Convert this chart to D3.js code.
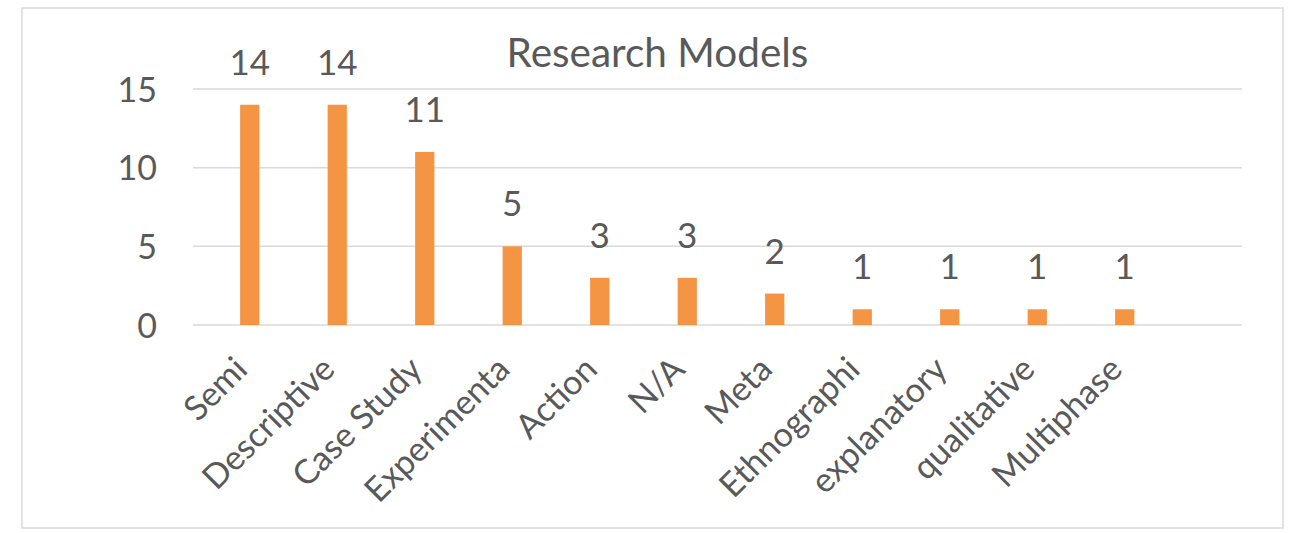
<!DOCTYPE html>
<html>
<head>
<meta charset="utf-8">
<script src="https://cdn.jsdelivr.net/npm/d3@7/dist/d3.min.js"></script>
<style>
  html, body { margin: 0; padding: 0; background: #ffffff; }
  svg { display: block; }
  text { font-family: Lato, "Noto Sans", sans-serif; fill: #595959; }
</style>
</head>
<body>
<svg id="chart" width="1298" height="533"></svg>
<script>
const categories = ["Semi", "Descriptive", "Case Study", "Experimenta", "Action", "N/A", "Meta", "Ethnographi", "explanatory", "qualitative", "Multiphase"];
const values = [14, 14, 11, 5, 3, 3, 2, 1, 1, 1, 1];
const yTicks = [0, 5, 10, 15];
const title = "Research Models";

const svg = d3.select("#chart");

// chart border
svg.append("rect")
  .attr("x", 22).attr("y", 8)
  .attr("width", 1261).attr("height", 520)
  .attr("fill", "#ffffff")
  .attr("stroke", "#d9d9d9")
  .attr("stroke-width", 1.5);

const gridLeft = 193, gridRight = 1242;

const x = d3.scaleBand()
  .domain(categories)
  .range([206, 1168.5])
  .paddingInner(0.78)
  .paddingOuter(0.39);

const y = d3.scaleLinear()
  .domain([0, 15])
  .range([325, 89]);

// gridlines
svg.append("g")
  .selectAll("line")
  .data(yTicks)
  .join("line")
  .attr("x1", gridLeft).attr("x2", gridRight)
  .attr("y1", d => y(d)).attr("y2", d => y(d))
  .attr("stroke", "#d9d9d9")
  .attr("stroke-width", 1.5);

// y axis labels
const yAxis = d3.axisLeft(y).tickValues(yTicks).tickSize(0).tickPadding(0);
const yg = svg.append("g").attr("transform", "translate(157,0)").call(yAxis);
yg.select(".domain").remove();
yg.selectAll("text")
  .attr("font-size", "34px")
  .attr("fill", "#595959")
  .style("font-family", "Lato, 'Noto Sans', sans-serif")
  .attr("dy", "0.36em");

// bars
svg.append("g")
  .selectAll("rect")
  .data(values)
  .join("rect")
  .attr("x", (d, i) => x(categories[i]))
  .attr("width", x.bandwidth())
  .attr("y", d => y(d))
  .attr("height", d => y(0) - y(d))
  .attr("fill", "#f39542");

// data labels
svg.append("g")
  .selectAll("text")
  .data(values)
  .join("text")
  .attr("x", (d, i) => x(categories[i]) + x.bandwidth() / 2)
  .attr("y", d => y(d) - 30)
  .attr("text-anchor", "middle")
  .attr("font-size", "35px")
  .text(d => d);

// x labels (rotated)
svg.append("g")
  .selectAll("text")
  .data(categories)
  .join("text")
  .attr("transform", d => `translate(${x(d) + x.bandwidth() / 2 - 9},${363}) rotate(-45)`)
  .attr("text-anchor", "end")
  .attr("dy", "0.35em")
  .attr("font-size", "34px")
  .text(d => d);

// title
svg.append("text")
  .attr("x", 657.5)
  .attr("y", 67)
  .attr("text-anchor", "middle")
  .attr("font-size", "40.5px")
  .text(title);
</script>
</body>
</html>
